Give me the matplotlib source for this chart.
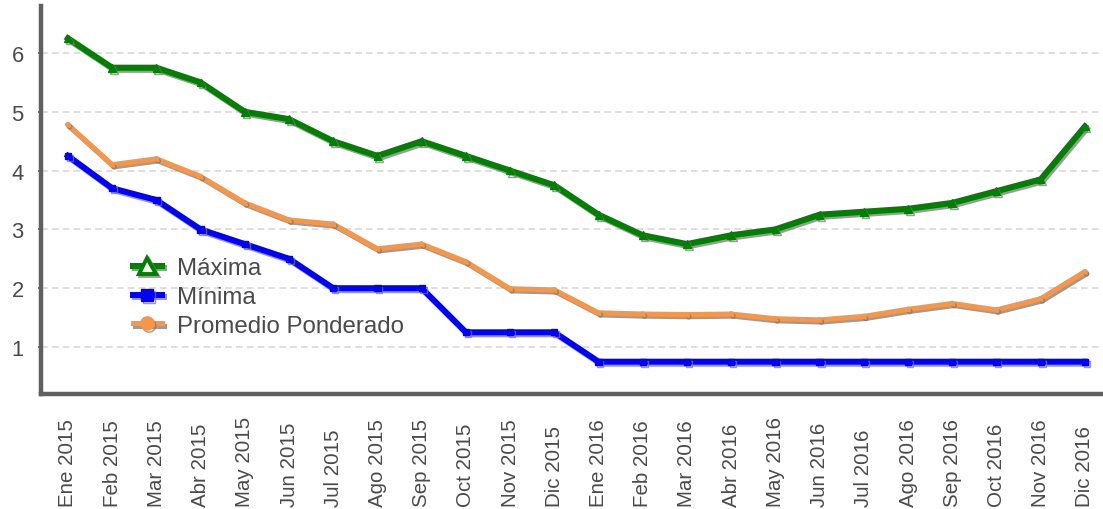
import matplotlib
matplotlib.use("Agg")
import matplotlib.pyplot as plt
import matplotlib.patheffects as pe
from matplotlib.lines import Line2D

plt.rcParams['font.family'] = ['Liberation Sans', 'DejaVu Sans']

meses = ["Ene 2015", "Feb 2015", "Mar 2015", "Abr 2015", "May 2015", "Jun 2015",
         "Jul 2015", "Ago 2015", "Sep 2015", "Oct 2015", "Nov 2015", "Dic 2015",
         "Ene 2016", "Feb 2016", "Mar 2016", "Abr 2016", "May 2016", "Jun 2016",
         "Jul 2016", "Ago 2016", "Sep 2016", "Oct 2016", "Nov 2016", "Dic 2016"]

maxima = [6.25, 5.75, 5.75, 5.50, 5.00, 4.875, 4.50, 4.25, 4.50, 4.25, 4.00, 3.75,
          3.25, 2.90, 2.75, 2.90, 3.00, 3.25, 3.30, 3.35, 3.45, 3.65, 3.85, 4.75]

minima = [4.25, 3.70, 3.50, 3.00, 2.75, 2.50, 2.00, 2.00, 2.00, 1.25, 1.25, 1.25,
          0.75, 0.75, 0.75, 0.75, 0.75, 0.75, 0.75, 0.75, 0.75, 0.75, 0.75, 0.75]

promedio = [4.78, 4.10, 4.20, 3.90, 3.45, 3.16, 3.09, 2.67, 2.75, 2.45, 1.99, 1.97,
            1.58, 1.56, 1.55, 1.56, 1.48, 1.46, 1.52, 1.64, 1.74, 1.63, 1.82, 2.28]

y_ticks = [1, 2, 3, 4, 5, 6]

GREEN = "#008000"
BLUE = "#0000ff"
ORANGE = "#f79646"
AXIS_GRAY = "#606060"
TEXT = "#4a4a4a"

fig = plt.figure(figsize=(11.03, 5.10), dpi=100)
ax = fig.add_axes([41 / 1103, 1 - 395 / 510, 1 - 41 / 1103, (395 - 7) / 510])

x = list(range(len(meses)))
shadow = [pe.SimpleLineShadow(offset=(1.3, -1.5), shadow_color="#7a7a7a", alpha=0.75),
          pe.Normal()]

ax.plot(x, promedio, color=ORANGE, lw=3.7, marker="o", ms=3, solid_joinstyle="round",
        solid_capstyle="round", path_effects=shadow, zorder=3)
ax.plot(x, minima, color=BLUE, lw=4.3, marker="s", ms=4.5, solid_joinstyle="miter",
        path_effects=shadow, zorder=4)
ax.plot(x, maxima, color=GREEN, lw=4.4, marker="^", ms=5.5, solid_joinstyle="miter",
        path_effects=shadow, zorder=5)

ax.set_xlim(-0.61, 23.41)
ax.set_ylim(0.2, 6.8)

ax.set_yticks(y_ticks)
ax.set_yticklabels([str(v) for v in y_ticks])
ax.set_xticks(x)
ax.set_xticklabels(meses, rotation=90, va="bottom", ha="center")

ax.tick_params(axis="y", length=2.5, width=1.2, color=AXIS_GRAY, pad=10,
               labelsize=15.8, labelcolor=TEXT)
ax.tick_params(axis="x", length=0, pad=80.5, labelsize=14.8, labelcolor=TEXT)

ax.grid(axis="y", color="#d9d9d9", lw=1.2, linestyle=(0, (4, 2.5)), zorder=0)
ax.set_axisbelow(True)

for side in ("top", "right"):
    ax.spines[side].set_visible(False)
for side in ("left", "bottom"):
    ax.spines[side].set_color(AXIS_GRAY)
    ax.spines[side].set_linewidth(3.2)

handles = [
    Line2D([], [], color=GREEN, lw=4.4, marker="^", ms=12, mfc="white", mec=GREEN,
           mew=2.8, path_effects=shadow),
    Line2D([], [], color=BLUE, lw=4.3, marker="s", ms=8.5, path_effects=shadow),
    Line2D([], [], color=ORANGE, lw=3.7, marker="o", ms=9.5, path_effects=shadow),
]
leg = ax.legend(handles, ["Máxima", "Mínima", "Promedio Ponderado"],
                loc="upper left", bbox_to_anchor=(0.0866, 0.352), frameon=False,
                fontsize=17.3, handlelength=1.2, handletextpad=0.65,
                labelspacing=0.28, borderpad=0, borderaxespad=0)
for t in leg.get_texts():
    t.set_color(TEXT)

fig.savefig("out.png", dpi=100)
